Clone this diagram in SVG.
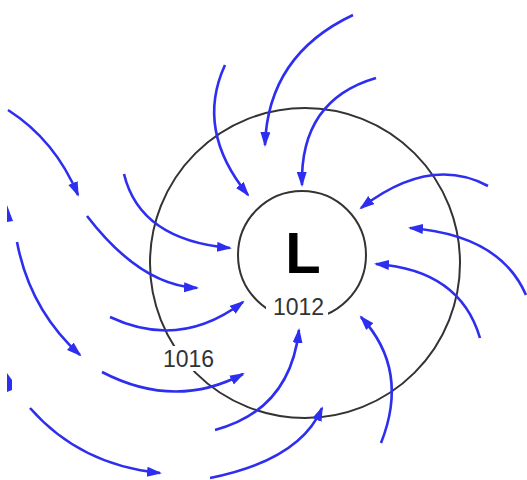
<svg xmlns="http://www.w3.org/2000/svg" width="527" height="480" viewBox="0 0 527 480">
<style>
.iso{fill:none;stroke:#333;stroke-width:2}
.wind{fill:none;stroke:#2e2ef0;stroke-width:2.6;marker-end:url(#ah)}
.lbl{font-family:"Liberation Sans",Arial,sans-serif;font-size:23px;fill:#333;text-anchor:middle}
.big{font-family:"Liberation Sans",Arial,sans-serif;font-size:58px;font-weight:bold;fill:#000;text-anchor:middle}
.stub{fill:#2e2ef0}
</style>
<defs>
<marker id="ah" markerUnits="userSpaceOnUse" markerWidth="16" markerHeight="12" refX="13" refY="5" orient="auto">
<path d="M0,0 L15,5 L0,10 Z" fill="#2e2ef0"/>
</marker>
</defs>
<rect width="527" height="480" fill="#fff"/>
<g id="isobar-1016">
<circle class="iso" cx="305" cy="263" r="155"/>
<rect x="160" y="346" width="57" height="25" fill="#fff"/>
<text class="lbl" x="188.5" y="367">1016</text>
</g>
<g id="isobar-1012">
<circle class="iso" cx="302" cy="255" r="64" fill="#fff"/>
<rect x="266" y="297" width="62" height="26" fill="#fff"/>
<text class="lbl" x="298.5" y="315">1012</text>
</g>
<g id="low">
<text class="big" x="303" y="273">L</text>
</g>
<g id="winds">
<path class="wind" d="M8,110 Q55,140 78,195"/>
<path class="wind" d="M87,216 Q140,285 197,288"/>
<path class="wind" d="M124,174 Q140,240 230,248"/>
<path class="wind" d="M225,65 Q195,130 248,195"/>
<path class="wind" d="M353,15 Q268,55 265,145"/>
<path class="wind" d="M376,78 Q300,100 302,185"/>
<path class="wind" d="M488,186 Q430,155 361,208"/>
<path class="wind" d="M526,295 Q500,235 410,228"/>
<path class="wind" d="M480,338 Q460,270 376,264"/>
<path class="wind" d="M381,443 Q410,370 361,317"/>
<path class="wind" d="M215,430 Q290,410 299,330"/>
<path class="wind" d="M210,478 Q300,460 322,408"/>
<path class="wind" d="M17,242 Q30,310 80,355"/>
<path class="wind" d="M110,317 Q180,350 243,302"/>
<path class="wind" d="M102,372 Q175,410 243,374"/>
<path class="wind" d="M30,408 Q80,465 160,473"/>
<polygon class="stub" points="7,205 13,221 7,222"/>
<polygon class="stub" points="7,373 12,380 12,390 7,392"/>
</g>
</svg>
